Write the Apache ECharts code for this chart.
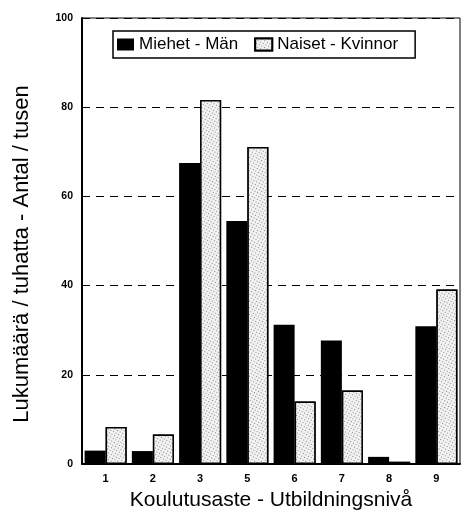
<!DOCTYPE html>
<html>
<head>
<meta charset="utf-8">
<script src="https://cdn.jsdelivr.net/npm/echarts@6/dist/echarts.min.js"></script>
<style>
  html, body { margin: 0; padding: 0; background: #fff; }
  #chart { width: 461px; height: 516px; }
</style>
</head>
<body>
<div id="chart"></div>
<script>
// koulutusaste / utbildningsnivå
const levels = ['1', '2', '3', '5', '6', '7', '8', '9']
// lukumäärä / tuhatta
const miehet = [3.0, 2.9, 67.5, 54.5, 31.2, 27.7, 1.6, 30.9]
const naiset = [8.3, 6.6, 81.6, 71.1, 14.0, 16.5, 0.5, 39.1]
const seriesNames = ['Miehet - Män', 'Naiset - Kvinnor']

const chart = echarts.init(document.getElementById('chart'))

const font = 'Liberation Sans, Arial, Helvetica, sans-serif'

// pisteytetty täyttö naisten pylväille
const stipple = {
  symbol: 'rect',
  symbolSize: 1,
  color: 'rgba(0,0,0,0.45)',
  backgroundColor: '#f2f2f2',
  dashArrayX: [1, 2],
  dashArrayY: [1, 2],
  rotation: 0.5
}

const option = {
  backgroundColor: '#fff',
  animation: false,
  textStyle: { fontFamily: font, color: '#000' },
  grid: {
    left: 82,
    right: 1,
    top: 18,
    bottom: 50,
    show: true,
    borderColor: '#000',
    borderWidth: 1
  },
  legend: {
    left: 113,
    top: 31,
    padding: [5, 17, 5, 4],
    itemGap: 16,
    itemWidth: 17,
    itemHeight: 12,
    icon: 'rect',
    borderColor: '#000',
    borderWidth: 1.5,
    backgroundColor: '#fff',
    borderRadius: 0,
    textStyle: { fontSize: 17, fontFamily: font, color: '#000' },
    data: seriesNames
  },
  xAxis: {
    type: 'category',
    data: levels,
    name: 'Koulutusaste - Utbildningsnivå',
    nameLocation: 'middle',
    nameGap: 26,
    nameTextStyle: { fontSize: 21, fontFamily: font, color: '#000' },
    axisLine: { lineStyle: { color: '#000', width: 2 } },
    axisTick: { show: false },
    axisLabel: { fontSize: 11, fontWeight: 'bold', color: '#000', margin: 9 }
  },
  yAxis: {
    type: 'value',
    min: 0,
    max: 100,
    interval: 20,
    name: 'Lukumäärä / tuhatta - Antal / tusen',
    nameLocation: 'middle',
    nameGap: 49,
    // siirretään nimeä hieman alaspäin
    nameTextStyle: { fontSize: 22, fontFamily: font, color: '#000', padding: [0, 26, 0, 0] },
    axisLine: { show: true, lineStyle: { color: '#000', width: 2 } },
    axisTick: { show: false },
    axisLabel: { fontSize: 10.5, fontWeight: 'bold', color: '#000', margin: 9 },
    splitLine: { lineStyle: { color: '#000', type: [8, 6], width: 1 } }
  },
  series: [
    {
      name: seriesNames[0],
      type: 'bar',
      data: miehet,
      barGap: '0%',
      barCategoryGap: '11%',
      itemStyle: { color: '#000' }
    },
    {
      name: seriesNames[1],
      type: 'bar',
      data: naiset,
      itemStyle: {
        color: '#f2f2f2',
        borderColor: '#000',
        borderWidth: 1.5,
        decal: stipple
      }
    }
  ]
}

chart.setOption(option)
</script>
</body>
</html>
